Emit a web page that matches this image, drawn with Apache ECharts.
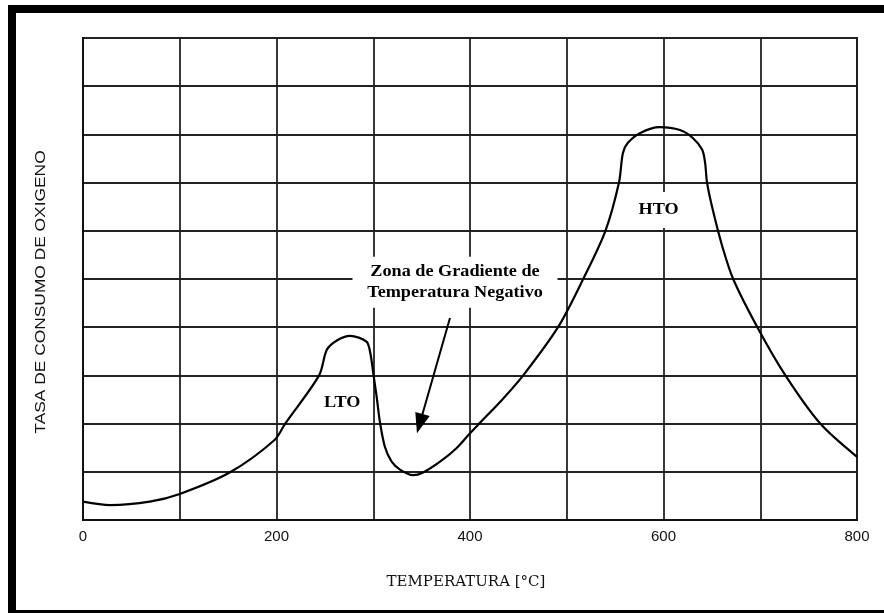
<!DOCTYPE html>
<html><head><meta charset="utf-8">
<script src="https://cdn.jsdelivr.net/npm/echarts@6/dist/echarts.min.js"></script>
<style>html,body{margin:0;padding:0;background:#fff}#c{width:884px;height:613px}</style>
</head><body><div id="c"></div>
<script>
// Temperature [°C] and oxygen consumption rate (grid units)
const temperatures = [0,28,69,100,152,198,209,244,252,262,276,293,297,300,303.5,307,312,319,328,341,351,369,386,400,410,433,455,491,517,540,554,558,563,576,596,617,630,640,643,645,651,661,672,697,726,762,800];
const oxygenRate = [0.38,0.31,0.38,0.54,0.99,1.66,2.0,3.0,3.53,3.72,3.82,3.70,3.46,3.05,2.56,2.02,1.52,1.21,1.04,0.93,0.98,1.21,1.49,1.80,2.01,2.49,3.0,4.0,5.0,6.0,7.0,7.61,7.82,8.03,8.15,8.09,7.93,7.68,7.41,7.0,6.43,5.66,5.0,4.0,3.0,2.0,1.31];
const xTickLabels = [0,200,400,600,800];
const xTitle = 'TEMPERATURA [°C]';
const yTitle = 'TASA DE CONSUMO DE OXIGENO';
const annotationTexts = ['LTO','HTO','Zona de Gradiente de\nTemperatura Negativo'];
const annotationPos = [[268,2.43],[595,6.43],[384.5,4.93]];
const arrowFrom = [379.3,4.19];
const arrowTo = [345.2,1.80];

const chart = echarts.init(document.getElementById('c'), null, {renderer:'canvas'});
const option = {
  backgroundColor:'#fff',
  animation:false,
  grid:{left:83,right:27,top:38,bottom:93,show:true,borderColor:'#111',borderWidth:2,backgroundColor:'#fff'},
  xAxis:{type:'value',min:0,max:800,interval:100,
    axisLine:{show:true,lineStyle:{color:'#111',width:2}},
    axisTick:{show:false},
    axisLabel:{margin:9,color:'#111',fontSize:15,fontFamily:'Liberation Sans',
      formatter:v=>xTickLabels.indexOf(v)>=0?String(v):''},
    splitLine:{show:true,lineStyle:{color:'#222',width:1.8}}},
  yAxis:{type:'value',min:0,max:10,interval:1,
    axisLine:{show:true,lineStyle:{color:'#111',width:2}},
    axisTick:{show:false},axisLabel:{show:false},
    splitLine:{show:true,lineStyle:{color:'#222',width:1.8}}},
  series:[{type:'line',data:temperatures.map((t,i)=>[t,oxygenRate[i]]),
    smooth:0.3,symbol:'none',lineStyle:{color:'#000',width:2.2},z:3}]
};
chart.setOption(option);

const px = p => chart.convertToPixel({gridIndex:0}, p);
const g = [];
// outer frame
g.push({type:'rect',shape:{x:8,y:5,width:876,height:8},style:{fill:'#000'},z:20});
g.push({type:'rect',shape:{x:8,y:5,width:8,height:608},style:{fill:'#000'},z:20});
g.push({type:'rect',shape:{x:8,y:610,width:876,height:3},style:{fill:'#000'},z:20});
// axis titles
g.push({type:'text',x:466,y:582,z:10,style:{text:xTitle,font:'15px "DejaVu Serif"',fill:'#111',
  textAlign:'center',textVerticalAlign:'middle',align:'center',verticalAlign:'middle'}});
g.push({type:'text',x:41,y:292,rotation:Math.PI/2,scaleX:1.24,z:10,style:{text:yTitle,font:'14px "Liberation Sans"',fill:'#111',
  textAlign:'center',textVerticalAlign:'middle',align:'center',verticalAlign:'middle'}});
// annotations
const boxes = [null,[50,36],[205,51]];
annotationTexts.forEach((t,i)=>{
  const p = px(annotationPos[i]);
  if(boxes[i]) g.push({type:'rect',shape:{x:p[0]-boxes[i][0]/2,y:p[1]-boxes[i][1]/2,width:boxes[i][0],height:boxes[i][1]},style:{fill:'#fff'},z:1});
  g.push({type:'text',x:p[0],y:p[1],scaleX:1.07,z:10,style:{text:t,font:'bold 17px "Liberation Serif"',fill:'#000',lineHeight:21,
    textAlign:'center',textVerticalAlign:'middle',align:'center',verticalAlign:'middle'}});
});
// arrow
const a = px(arrowFrom), b = px(arrowTo);
const dx=b[0]-a[0], dy=b[1]-a[1], L=Math.hypot(dx,dy), ux=dx/L, uy=dy/L;
const hl=20, hw=7.5;
const bc=[b[0]-ux*hl,b[1]-uy*hl];
g.push({type:'line',shape:{x1:a[0],y1:a[1],x2:bc[0]+ux*2,y2:bc[1]+uy*2},style:{stroke:'#000',lineWidth:2},z:10});
g.push({type:'polygon',shape:{points:[[b[0],b[1]],[bc[0]+uy*hw,bc[1]-ux*hw],[bc[0]-uy*hw,bc[1]+ux*hw]]},style:{fill:'#000'},z:10});
chart.setOption({graphic:g});
</script></body></html>
